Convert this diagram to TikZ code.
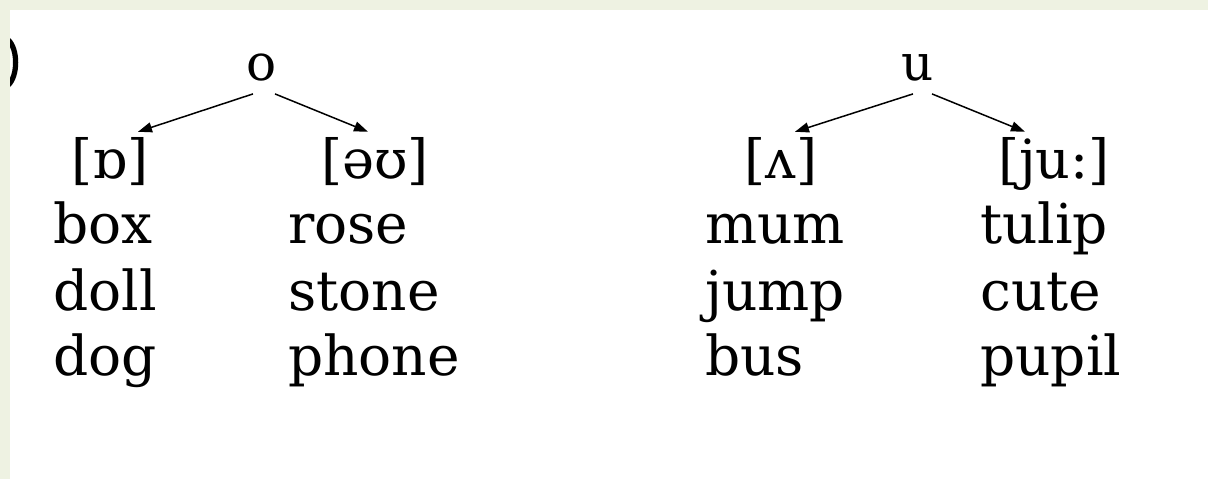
\documentclass[tikz,border=0pt]{standalone}
\usepackage{fontspec}
\setmainfont{DejaVu Serif}
\usetikzlibrary{arrows.meta}
\definecolor{bandgreen}{HTML}{EEF2E2}
\tikzset{
  word/.style={anchor=base west, inner sep=0pt, font=\fontsize{55}{66}\selectfont},
  ipa/.style={anchor=base, inner sep=0pt, font=\fontsize{54}{64}\selectfont},
  letter/.style={anchor=base, inner sep=0pt, font=\fontsize{50}{60}\selectfont},
  arr/.style={draw=black, line width=1.5pt, -{Triangle[length=14pt,width=10pt]}}
}
\begin{document}
\begin{tikzpicture}[x=1pt,y=-1pt]
\useasboundingbox (0,0) rectangle (1208,479);
\fill[white] (0,0) rectangle (1208,479);
\fill[bandgreen] (0,0) rectangle (1208,10);
\fill[bandgreen] (0,0) rectangle (10,479);
% cut-off parenthesis at the left edge
\fill[black] (10,38) .. controls (21,48) and (21,77) .. (10,87) -- (10,78) .. controls (14,70) and (14,55) .. (10,47) -- cycle;
% group o
\node[letter] (o) at (262,80) {o};
\node[ipa] (ipa1) at (110,178) {[ɒ]};
\node[ipa] (ipa2) at (375,178) {[əʊ]};
\node[word] (w1) at (53,243) {box};
\node[word] (w2) at (53,310) {doll};
\node[word] (w3) at (53,375) {dog};
\node[word] (w4) at (288,243) {rose};
\node[word] (w5) at (288,310) {stone};
\node[word] (w6) at (288,375) {phone};
\draw[arr] ([xshift=-9pt,yshift=-13pt]o.south) -- ([xshift=28pt,yshift=5pt]ipa1.north);
\draw[arr] ([xshift=13pt,yshift=-13pt]o.south) -- ([xshift=-7pt,yshift=5pt]ipa2.north);
% group u
\node[letter] (u) at (918,80) {u};
\node[ipa] (ipa3) at (781,178) {[ʌ]};
\node[ipa] (ipa4) at (1054,178) {[ju:]};
\node[word] (w7) at (705,243) {mum};
\node[word] (w8) at (705,310) {jump};
\node[word] (w9) at (705,375) {bus};
\node[word] (w10) at (980,243) {tulip};
\node[word] (w11) at (980,310) {cute};
\node[word] (w12) at (980,375) {pupil};
\draw[arr] ([xshift=-5pt,yshift=-13pt]u.south) -- ([xshift=14pt,yshift=5pt]ipa3.north);
\draw[arr] ([xshift=14pt,yshift=-13pt]u.south) -- ([xshift=-29pt,yshift=5pt]ipa4.north);
\end{tikzpicture}
\end{document}
